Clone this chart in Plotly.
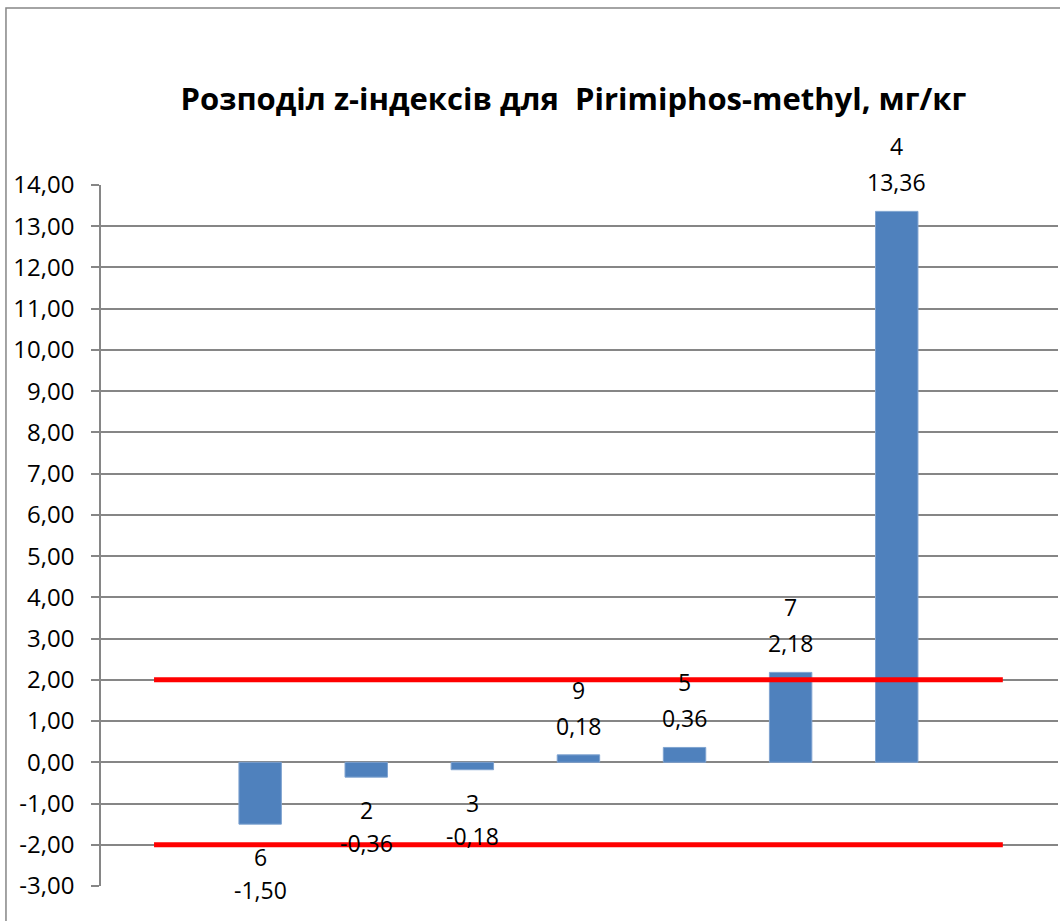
import plotly.graph_objects as go

# slots along the category axis (first and last are empty)
positions = [1, 2, 3, 4, 5, 6, 7, 8, 9]
lab_codes = ["", "6", "2", "3", "9", "5", "7", "4", ""]
z_scores = [None, -1.50, -0.36, -0.18, 0.18, 0.36, 2.18, 13.36, None]
upper_limit = [2, 2, 2, 2, 2, 2, 2, 2, 2]
lower_limit = [-2, -2, -2, -2, -2, -2, -2, -2, -2]
tick_vals = [-3, -2, -1, 0, 1, 2, 3, 4, 5, 6, 7, 8, 9, 10, 11, 12, 13, 14]
tick_labels = ["-3,00", "-2,00", "-1,00", "0,00", "1,00", "2,00", "3,00", "4,00", "5,00",
               "6,00", "7,00", "8,00", "9,00", "10,00", "11,00", "12,00", "13,00", "14,00"]

title_text = "Розподіл z-індексів для  Pirimiphos-methyl, мг/кг"
font_family = "'Open Sans', 'Noto Sans', sans-serif"
grid_col = "#868686"

fig = go.Figure()

fig.add_trace(go.Bar(x=positions, y=z_scores, width=0.4,
                     marker=dict(color="#4F81BD", line=dict(color="#7FA3D0", width=1)),
                     showlegend=False, hoverinfo="skip"))

for lim in (upper_limit, lower_limit):
    fig.add_trace(go.Scatter(x=positions, y=lim, mode="lines",
                             line=dict(color="#FF0000", width=5),
                             showlegend=False, hoverinfo="skip"))

# data labels: lab code over the value, outside the bar end
lab_font = dict(size=23, color="#000000", family=font_family)
for x, code, v in zip(positions, lab_codes, z_scores):
    if v is None:
        continue
    val_txt = f"{v:.2f}".replace(".", ",")
    up = v >= 0
    fig.add_annotation(x=x, y=v, text=code, showarrow=False, yanchor="middle",
                       yshift=65 if up else -33, font=lab_font)
    fig.add_annotation(x=x, y=v, text=val_txt, showarrow=False, yanchor="middle",
                       yshift=29 if up else -66, font=lab_font)

# outer chart border
fig.add_shape(type="rect", xref="paper", yref="paper",
              x0=-0.0993, x1=1.2, y0=-0.2, y1=1.2525,
              line=dict(color=grid_col, width=1.5), layer="below")

fig.update_layout(
    width=1060, height=921,
    margin=dict(l=101, r=2, t=185, b=35),
    plot_bgcolor="white", paper_bgcolor="white",
    font=dict(family=font_family, color="#000000"),
    title=dict(text="<b>" + title_text + "</b>", x=0.541, xanchor="center",
               y=0.892, yanchor="middle",
               font=dict(size=31, family=font_family, color="#000000")),
    xaxis=dict(range=[0.5, 9.52], showticklabels=False, showgrid=False,
               zeroline=False, showline=False, ticks=""),
    yaxis=dict(range=[-3, 14], tickmode="array", tickvals=tick_vals, ticktext=tick_labels,
               showgrid=True, gridcolor=grid_col, gridwidth=1.5,
               zeroline=False, showline=True, linecolor=grid_col, linewidth=1.5,
               ticks="outside", ticklen=8, tickcolor=grid_col, tickwidth=1.5,
               ticklabelstandoff=12,
               tickfont=dict(size=24, color="#000000", family=font_family)),
)

fig.write_html("out.html", config={"displayModeBar": False},
               post_script="document.body.style.margin='0';")
